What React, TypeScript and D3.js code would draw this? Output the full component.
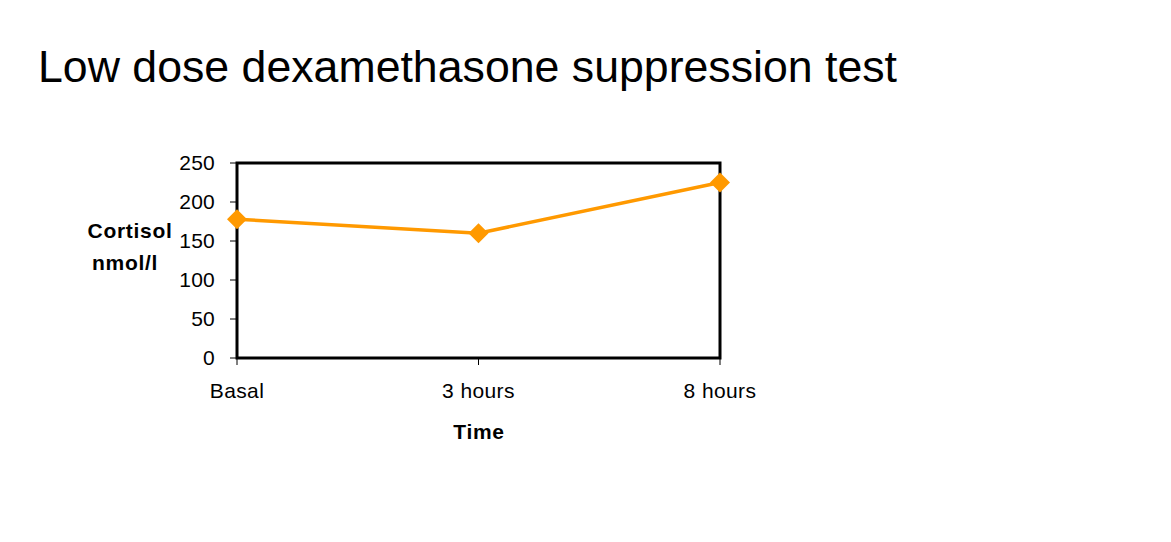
import React from "react";
import * as d3 from "d3";

const categories = ["Basal", "3 hours", "8 hours"];
const cortisol = [178, 160, 225];
const yTicks = [0, 50, 100, 150, 200, 250];

const W = 1171;
const H = 542;
const M = { left: 237, right: 720, top: 163, bottom: 358 };
const ORANGE = "#FF9900";
const FONT = "Arial, 'Liberation Sans', sans-serif";

export default function App() {
  const x = d3.scalePoint<string>().domain(categories).range([M.left, M.right]).padding(0);
  const y = d3.scaleLinear().domain([0, 250]).range([M.bottom, M.top]);
  const line = d3
    .line<number>()
    .x((_, i) => x(categories[i]) as number)
    .y((d) => y(d));
  const diamond = (cx: number, cy: number, r: number) =>
    `M${cx},${cy - r}L${cx + r},${cy}L${cx},${cy + r}L${cx - r},${cy}Z`;

  return (
    <svg
      width={W}
      height={H}
      style={{ position: "absolute", left: 0, top: 0, background: "#fff" }}
      fontFamily={FONT}
    >
      <rect x={0} y={0} width={W} height={H} fill="#fff" />
      <text x={38} y={82} fontSize={45} fill="#000" textLength={859} lengthAdjust="spacingAndGlyphs">
        Low dose dexamethasone suppression test
      </text>

      {/* y ticks */}
      {yTicks.map((t) => (
        <g key={t}>
          <line x1={M.left - 7} x2={M.left} y1={y(t)} y2={y(t)} stroke="#000" strokeWidth={1} />
          <text x={215} y={y(t) + 7} fontSize={21} letterSpacing={0.2} textAnchor="end" fill="#000">
            {t}
          </text>
        </g>
      ))}

      {/* x ticks */}
      {categories.map((c) => (
        <g key={c}>
          <line x1={x(c)} x2={x(c)} y1={M.bottom} y2={M.bottom + 7} stroke="#000" strokeWidth={1} />
          <text x={x(c)} y={398} fontSize={21} letterSpacing={0.4} textAnchor="middle" fill="#000">
            {c}
          </text>
        </g>
      ))}

      {/* frame */}
      <rect
        x={M.left}
        y={M.top}
        width={M.right - M.left}
        height={M.bottom - M.top}
        fill="none"
        stroke="#000"
        strokeWidth={3}
      />

      {/* axis titles */}
      <text x={130} y={238} fontSize={21} letterSpacing={0.7} fontWeight="bold" textAnchor="middle" fill="#000">
        Cortisol
      </text>
      <text x={125} y={270} fontSize={21} letterSpacing={0.7} fontWeight="bold" textAnchor="middle" fill="#000">
        nmol/l
      </text>
      <text x={479} y={439} fontSize={21} letterSpacing={0.7} fontWeight="bold" textAnchor="middle" fill="#000">
        Time
      </text>

      {/* series */}
      <path d={line(cortisol) || ""} fill="none" stroke={ORANGE} strokeWidth={3.5} />
      {cortisol.map((v, i) => (
        <path key={i} d={diamond(x(categories[i]) as number, y(v), 10)} fill={ORANGE} />
      ))}
    </svg>
  );
}
